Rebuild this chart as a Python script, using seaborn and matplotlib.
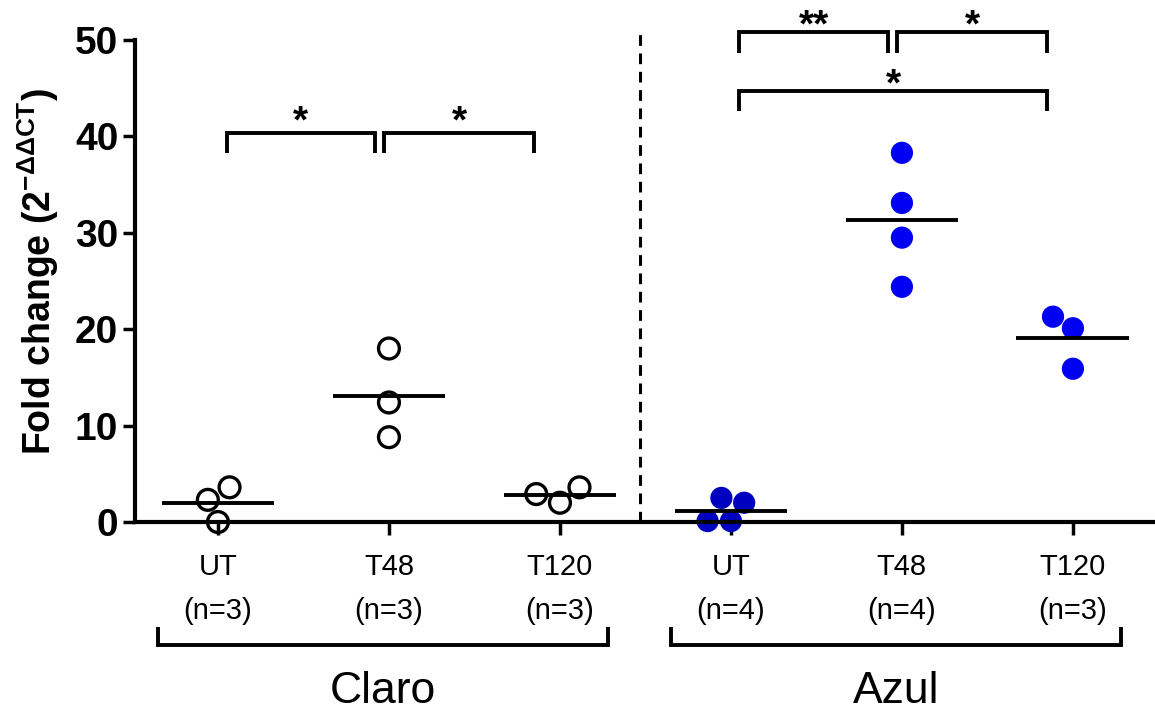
"""
Fold change per strain and timepoint: scatter with means and significance brackets
"""

import numpy as np
import pandas as pd
import matplotlib
matplotlib.use("Agg")
import matplotlib.pyplot as plt
import seaborn as sns

# values
strains = ["Claro", "Azul"]
timepoints = ["UT", "T48", "T120"]
n_labels = ["(n=3)", "(n=3)", "(n=3)", "(n=4)", "(n=4)", "(n=3)"]

claro_ut = [0.0, 2.3, 3.6]
claro_t48 = [8.8, 12.4, 18.0]
claro_t120 = [2.0, 2.9, 3.6]
azul_ut = [0.1, 0.1, 2.0, 2.5]
azul_t48 = [24.4, 29.5, 33.1, 38.3]
azul_t120 = [15.9, 20.1, 21.3]

# significance: (strain, from, to, label)
comparisons = [
    ("Claro", "UT", "T48", "*"),
    ("Claro", "T48", "T120", "*"),
    ("Azul", "UT", "T48", "**"),
    ("Azul", "T48", "T120", "*"),
    ("Azul", "UT", "T120", "*"),
]

sns.set_style("ticks")
plt.rcParams["font.family"] = ["Liberation Sans", "DejaVu Sans"]
plt.rcParams["mathtext.fontset"] = "custom"
plt.rcParams["mathtext.rm"] = "Liberation Sans"
plt.rcParams["mathtext.bf"] = "Liberation Sans:bold"
plt.rcParams["mathtext.it"] = "Liberation Sans:italic"
for key in ["text.color", "axes.labelcolor", "xtick.color", "ytick.color", "axes.edgecolor"]:
    plt.rcParams[key] = "black"

# Build long table
series = {
    ("Claro", "UT"): claro_ut,
    ("Claro", "T48"): claro_t48,
    ("Claro", "T120"): claro_t120,
    ("Azul", "UT"): azul_ut,
    ("Azul", "T48"): azul_t48,
    ("Azul", "T120"): azul_t120,
}
rows = []
for (strain, tp), vals in series.items():
    for v in vals:
        rows.append({"strain": strain, "time": tp, "cond": f"{strain} {tp}", "value": v})
df = pd.DataFrame(rows)
order = [f"{s} {t}" for s in strains for t in timepoints]
xpos = np.arange(len(order))

fig = plt.figure(figsize=(11.55, 7.11), dpi=100)
ax = fig.add_axes([0.1169, 0.2658, 0.8831, 0.6779])

# points
sns.swarmplot(data=df[df.strain == "Claro"], x="cond", y="value", order=order,
              ax=ax, size=15, facecolor="none", edgecolor="black", linewidth=2.4)
azul_colors = {"Azul UT": "#0000C0", "Azul T48": "#0000F2", "Azul T120": "#0000F2"}
sns.swarmplot(data=df[df.strain == "Azul"], x="cond", y="value", order=order,
              hue="cond", palette=azul_colors, legend=False,
              ax=ax, size=16, linewidth=0)
for coll in ax.collections:
    offs = np.asarray(coll.get_offsets())
    if len(offs) and np.isfinite(offs).all():
        coll.set_clip_on(False)

# mean lines
means = df.groupby("cond")["value"].mean().reindex(order)
ax.hlines(means.values, xpos - 0.33, xpos + 0.33, color="black", lw=2.8, zorder=4)

# axes styling
ax.set_xlim(-0.485, 5.48)
ax.set_ylim(0, 50)
ax.set_yticks(range(0, 51, 10))
sns.despine(ax=ax)
for side in ["left", "bottom"]:
    ax.spines[side].set_linewidth(3)
    ax.spines[side].set_zorder(5)
ax.tick_params(axis="both", length=9, width=2.5, direction="out")
ax.tick_params(axis="y", labelsize=28, pad=3)
for lab in ax.get_yticklabels():
    lab.set_fontweight("bold")
ax.set_xticks(xpos)
ax.set_xticklabels(timepoints * 2, fontsize=21)
ax.tick_params(axis="x", pad=13.5)
ax.set_xlabel("")
ax.set_ylabel(r"Fold change (2$^{\mathbf{-\Delta\Delta CT}}$)", fontsize=27, fontweight="bold")
ax.yaxis.set_label_coords(-0.095, 0.519)
ax.yaxis.label.set_va("center")

# n per group
for i, lab in enumerate(n_labels):
    ax.text(i, -9.2, lab, ha="center", va="center", fontsize=21, clip_on=False)

# strain brackets under the axis
for s in strains:
    idx = [order.index(f"{s} {t}") for t in timepoints]
    x0, x1 = idx[0] - 0.35, idx[-1] + 0.28
    ax.plot([x0, x0, x1, x1], [-10.9, -12.76, -12.76, -10.9], color="black", lw=2.8,
            clip_on=False, solid_joinstyle="miter", solid_capstyle="butt")
    ax.text((x0 + x1) / 2, -17.6, s, ha="center", va="center", fontsize=32, clip_on=False)

# separator between strains
ax.vlines(2.47, 0, 51.2, color="black", lw=2.2, linestyles=(0, (3.5, 2.5)), clip_on=False)

# significance brackets
bracket_y = [40.35, 40.35, 50.8, 50.8, 44.7]
star_gap = [-0.8, -0.8, -1.3, -1.3, -1.3]
start_off = {0: 0.05, 1: -0.03}
end_off = {1: -0.08, 2: -0.15}
for (s, a, b, label), y, gap in zip(comparisons, bracket_y, star_gap):
    ia, ib = timepoints.index(a), timepoints.index(b)
    x0 = order.index(f"{s} {a}") + start_off[ia]
    x1 = order.index(f"{s} {b}") + end_off[ib]
    ax.plot([x0, x0, x1, x1], [y - 2.1, y, y, y - 2.1], color="black", lw=2.8,
            clip_on=False, solid_joinstyle="miter", solid_capstyle="butt")
    ax.text((x0 + x1) / 2, y + gap, label, ha="center", va="bottom",
            fontsize=28, fontweight="bold", clip_on=False)

plt.savefig("out.png", dpi=100)
